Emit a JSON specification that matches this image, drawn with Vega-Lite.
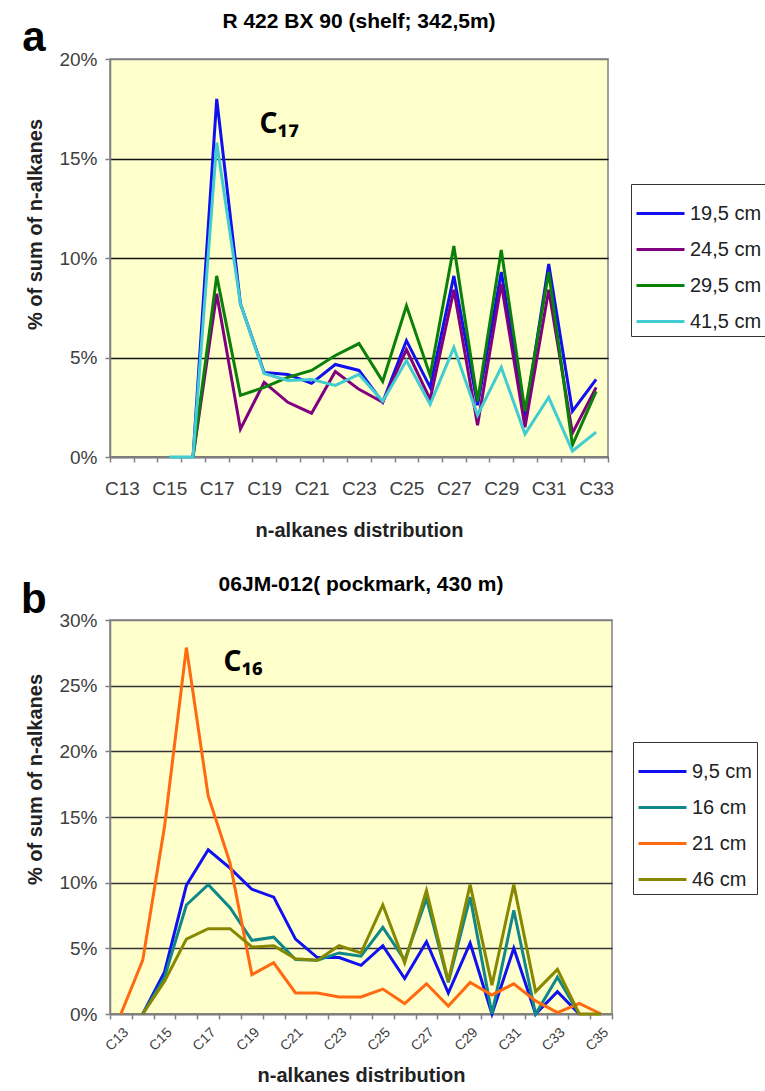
{
  "$schema": "https://vega.github.io/schema/vega-lite/v6.json",
  "padding": {"left": 20, "top": 10, "right": 0, "bottom": 0},
  "spacing": 32,
  "config": {
    "font": "Liberation Sans",
    "view": {"fill": "#FFFFCC", "stroke": "#808080", "strokeWidth": 1.5},
    "title": {"fontSize": 21, "fontWeight": "bold", "color": "black", "font": "Liberation Sans"},
    "axis": {
      "labelFont": "Liberation Sans",
      "labelColor": "#404040",
      "titleFont": "Liberation Sans",
      "titleFontWeight": "bold",
      "titleFontSize": 20,
      "titleColor": "#222",
      "domainColor": "#808080",
      "domainWidth": 1.5,
      "tickColor": "#808080",
      "tickWidth": 1.5,
      "tickSize": 5
    },
    "legend": {
      "labelFont": "Liberation Sans",
      "labelFontSize": 20,
      "labelColor": "#222",
      "symbolType": "stroke",
      "symbolStrokeWidth": 3,
      "symbolSize": 2300,
      "strokeColor": "#333",
      "fillColor": "white",
      "padding": 4,
      "rowPadding": 0,
      "labelOffset": 4
    }
  },
  "resolve": {"scale": {"color": "independent", "x": "independent", "y": "independent"}},
  "vconcat": [
    {
      "width": 498,
      "height": 398,
      "title": {"text": "R 422 BX 90 (shelf; 342,5m)", "offset": -15},
      "data": {
        "values": [
          {"c": "C16", "s": "19,5 cm", "v": 0},
          {"c": "C17", "s": "19,5 cm", "v": 18.0},
          {"c": "C18", "s": "19,5 cm", "v": 7.7},
          {"c": "C19", "s": "19,5 cm", "v": 4.25},
          {"c": "C20", "s": "19,5 cm", "v": 4.15},
          {"c": "C21", "s": "19,5 cm", "v": 3.7},
          {"c": "C22", "s": "19,5 cm", "v": 4.65},
          {"c": "C23", "s": "19,5 cm", "v": 4.35},
          {"c": "C24", "s": "19,5 cm", "v": 2.75},
          {"c": "C25", "s": "19,5 cm", "v": 5.85},
          {"c": "C26", "s": "19,5 cm", "v": 3.5},
          {"c": "C27", "s": "19,5 cm", "v": 9.1},
          {"c": "C28", "s": "19,5 cm", "v": 2.6},
          {"c": "C29", "s": "19,5 cm", "v": 9.3},
          {"c": "C30", "s": "19,5 cm", "v": 2.0},
          {"c": "C31", "s": "19,5 cm", "v": 9.7},
          {"c": "C32", "s": "19,5 cm", "v": 2.3},
          {"c": "C33", "s": "19,5 cm", "v": 3.9},
          {"c": "C16", "s": "24,5 cm", "v": 0},
          {"c": "C17", "s": "24,5 cm", "v": 8.2},
          {"c": "C18", "s": "24,5 cm", "v": 1.4},
          {"c": "C19", "s": "24,5 cm", "v": 3.75},
          {"c": "C20", "s": "24,5 cm", "v": 2.75},
          {"c": "C21", "s": "24,5 cm", "v": 2.2},
          {"c": "C22", "s": "24,5 cm", "v": 4.3},
          {"c": "C23", "s": "24,5 cm", "v": 3.4},
          {"c": "C24", "s": "24,5 cm", "v": 2.75},
          {"c": "C25", "s": "24,5 cm", "v": 5.4},
          {"c": "C26", "s": "24,5 cm", "v": 2.9},
          {"c": "C27", "s": "24,5 cm", "v": 8.4},
          {"c": "C28", "s": "24,5 cm", "v": 1.6},
          {"c": "C29", "s": "24,5 cm", "v": 8.7},
          {"c": "C30", "s": "24,5 cm", "v": 1.5},
          {"c": "C31", "s": "24,5 cm", "v": 8.4},
          {"c": "C32", "s": "24,5 cm", "v": 1.2},
          {"c": "C33", "s": "24,5 cm", "v": 3.5},
          {"c": "C16", "s": "29,5 cm", "v": 0},
          {"c": "C17", "s": "29,5 cm", "v": 9.1},
          {"c": "C18", "s": "29,5 cm", "v": 3.1},
          {"c": "C19", "s": "29,5 cm", "v": 3.5},
          {"c": "C20", "s": "29,5 cm", "v": 4.0},
          {"c": "C21", "s": "29,5 cm", "v": 4.35},
          {"c": "C22", "s": "29,5 cm", "v": 5.1},
          {"c": "C23", "s": "29,5 cm", "v": 5.7},
          {"c": "C24", "s": "29,5 cm", "v": 3.8},
          {"c": "C25", "s": "29,5 cm", "v": 7.6},
          {"c": "C26", "s": "29,5 cm", "v": 4.1},
          {"c": "C27", "s": "29,5 cm", "v": 10.6},
          {"c": "C28", "s": "29,5 cm", "v": 2.8},
          {"c": "C29", "s": "29,5 cm", "v": 10.4},
          {"c": "C30", "s": "29,5 cm", "v": 2.3},
          {"c": "C31", "s": "29,5 cm", "v": 9.3},
          {"c": "C32", "s": "29,5 cm", "v": 0.6},
          {"c": "C33", "s": "29,5 cm", "v": 3.3},
          {"c": "C15", "s": "41,5 cm", "v": 0},
          {"c": "C16", "s": "41,5 cm", "v": 0},
          {"c": "C17", "s": "41,5 cm", "v": 15.8},
          {"c": "C18", "s": "41,5 cm", "v": 7.7},
          {"c": "C19", "s": "41,5 cm", "v": 4.2},
          {"c": "C20", "s": "41,5 cm", "v": 3.85},
          {"c": "C21", "s": "41,5 cm", "v": 3.9},
          {"c": "C22", "s": "41,5 cm", "v": 3.6},
          {"c": "C23", "s": "41,5 cm", "v": 4.15},
          {"c": "C24", "s": "41,5 cm", "v": 2.8},
          {"c": "C25", "s": "41,5 cm", "v": 4.85},
          {"c": "C26", "s": "41,5 cm", "v": 2.65},
          {"c": "C27", "s": "41,5 cm", "v": 5.5},
          {"c": "C28", "s": "41,5 cm", "v": 2.1},
          {"c": "C29", "s": "41,5 cm", "v": 4.5},
          {"c": "C30", "s": "41,5 cm", "v": 1.15},
          {"c": "C31", "s": "41,5 cm", "v": 3.0},
          {"c": "C32", "s": "41,5 cm", "v": 0.3},
          {"c": "C33", "s": "41,5 cm", "v": 1.25}
        ]
      },
      "layer": [
        {
          "mark": {"type": "line", "strokeWidth": 3},
          "encoding": {
            "x": {
              "field": "c",
              "type": "ordinal",
              "scale": {
                "type": "band",
                "paddingInner": 0,
                "paddingOuter": 0,
                "domain": ["C13", "C14", "C15", "C16", "C17", "C18", "C19", "C20", "C21", "C22", "C23", "C24", "C25", "C26", "C27", "C28", "C29", "C30", "C31", "C32", "C33"]
              },
              "axis": {
                "title": "n-alkanes distribution",
                "titlePadding": 22,
                "labelAngle": 0,
                "labelFontSize": 19,
                "labelPadding": 17,
                "labelOverlap": false,
                "tickBand": "extent",
                "labelExpr": "parseInt(substring(datum.value, 1)) % 2 == 1 ? datum.value : ''"
              }
            },
            "y": {
              "field": "v",
              "type": "quantitative",
              "scale": {"domain": [0, 20], "nice": false},
              "axis": {
                "title": "% of sum of n-alkanes",
                "values": [0, 5, 10, 15, 20],
                "labelExpr": "datum.value + '%'",
                "labelFontSize": 19,
                "labelPadding": 8,
                "grid": true,
                "gridColor": {"condition": {"test": "datum.value >= 20", "value": "#808080"}, "value": "#111"},
                "gridWidth": 1.5,
                "titleX": -75,
                "titleY": 165,
                "titleBaseline": "middle",
                "titleAlign": "center"
              }
            },
            "color": {
              "field": "s",
              "type": "nominal",
              "scale": {
                "domain": ["19,5 cm", "24,5 cm", "29,5 cm", "41,5 cm"],
                "range": ["#1010F0", "#800080", "#0A800A", "#40CCD0"]
              },
              "legend": {"title": null, "orient": "none", "legendX": 521, "legendY": 125}
            }
          }
        },
        {
          "data": {"values": [{"label": "C₁₇"}]},
          "mark": {"type": "text", "font": "Noto Sans", "fontSize": 28, "fontWeight": "bold", "color": "black", "align": "center", "baseline": "alphabetic", "dx": 15},
          "encoding": {
            "x": {"datum": "C19", "type": "ordinal"},
            "y": {"datum": 16.3, "type": "quantitative"},
            "text": {"field": "label"}
          }
        },
        {
          "data": {"values": [{"label": "a"}]},
          "mark": {"type": "text", "font": "Liberation Sans", "fontSize": 42, "fontWeight": "bold", "color": "black", "align": "center", "baseline": "alphabetic", "dx": -88, "dy": -8, "clip": false},
          "encoding": {
            "x": {"datum": "C13", "type": "ordinal"},
            "y": {"datum": 20, "type": "quantitative"},
            "text": {"field": "label"}
          }
        }
      ]
    },
    {
      "width": 502,
      "height": 394,
      "title": {"text": "06JM-012( pockmark, 430 m)", "offset": -16},
      "data": {
        "values": [
          {"c": "C14", "s": "9,5 cm", "v": 0},
          {"c": "C15", "s": "9,5 cm", "v": 3.2},
          {"c": "C16", "s": "9,5 cm", "v": 9.8},
          {"c": "C17", "s": "9,5 cm", "v": 12.5},
          {"c": "C18", "s": "9,5 cm", "v": 11.1},
          {"c": "C19", "s": "9,5 cm", "v": 9.5},
          {"c": "C20", "s": "9,5 cm", "v": 8.9},
          {"c": "C21", "s": "9,5 cm", "v": 5.7},
          {"c": "C22", "s": "9,5 cm", "v": 4.3},
          {"c": "C23", "s": "9,5 cm", "v": 4.3},
          {"c": "C24", "s": "9,5 cm", "v": 3.7},
          {"c": "C25", "s": "9,5 cm", "v": 5.2},
          {"c": "C26", "s": "9,5 cm", "v": 2.7},
          {"c": "C27", "s": "9,5 cm", "v": 5.5},
          {"c": "C28", "s": "9,5 cm", "v": 1.6},
          {"c": "C29", "s": "9,5 cm", "v": 5.4},
          {"c": "C30", "s": "9,5 cm", "v": 0},
          {"c": "C31", "s": "9,5 cm", "v": 5.0},
          {"c": "C32", "s": "9,5 cm", "v": 0},
          {"c": "C33", "s": "9,5 cm", "v": 1.7},
          {"c": "C34", "s": "9,5 cm", "v": 0},
          {"c": "C14", "s": "16 cm", "v": 0},
          {"c": "C15", "s": "16 cm", "v": 2.8},
          {"c": "C16", "s": "16 cm", "v": 8.3},
          {"c": "C17", "s": "16 cm", "v": 9.85},
          {"c": "C18", "s": "16 cm", "v": 8.1},
          {"c": "C19", "s": "16 cm", "v": 5.6},
          {"c": "C20", "s": "16 cm", "v": 5.85},
          {"c": "C21", "s": "16 cm", "v": 4.15},
          {"c": "C22", "s": "16 cm", "v": 4.1},
          {"c": "C23", "s": "16 cm", "v": 4.65},
          {"c": "C24", "s": "16 cm", "v": 4.4},
          {"c": "C25", "s": "16 cm", "v": 6.6},
          {"c": "C26", "s": "16 cm", "v": 4.1},
          {"c": "C27", "s": "16 cm", "v": 8.8},
          {"c": "C28", "s": "16 cm", "v": 2.4},
          {"c": "C29", "s": "16 cm", "v": 8.9},
          {"c": "C30", "s": "16 cm", "v": 0},
          {"c": "C31", "s": "16 cm", "v": 7.9},
          {"c": "C32", "s": "16 cm", "v": 0},
          {"c": "C33", "s": "16 cm", "v": 2.8},
          {"c": "C34", "s": "16 cm", "v": 0},
          {"c": "C13", "s": "21 cm", "v": 0},
          {"c": "C14", "s": "21 cm", "v": 4.1},
          {"c": "C15", "s": "21 cm", "v": 14.3},
          {"c": "C16", "s": "21 cm", "v": 27.9},
          {"c": "C17", "s": "21 cm", "v": 16.6},
          {"c": "C18", "s": "21 cm", "v": 11.5},
          {"c": "C19", "s": "21 cm", "v": 3.0},
          {"c": "C20", "s": "21 cm", "v": 3.9},
          {"c": "C21", "s": "21 cm", "v": 1.6},
          {"c": "C22", "s": "21 cm", "v": 1.6},
          {"c": "C23", "s": "21 cm", "v": 1.3},
          {"c": "C24", "s": "21 cm", "v": 1.3},
          {"c": "C25", "s": "21 cm", "v": 1.9},
          {"c": "C26", "s": "21 cm", "v": 0.8},
          {"c": "C27", "s": "21 cm", "v": 2.3},
          {"c": "C28", "s": "21 cm", "v": 0.6},
          {"c": "C29", "s": "21 cm", "v": 2.4},
          {"c": "C30", "s": "21 cm", "v": 1.45},
          {"c": "C31", "s": "21 cm", "v": 2.3},
          {"c": "C32", "s": "21 cm", "v": 1.0},
          {"c": "C33", "s": "21 cm", "v": 0.1},
          {"c": "C34", "s": "21 cm", "v": 0.8},
          {"c": "C35", "s": "21 cm", "v": 0},
          {"c": "C14", "s": "46 cm", "v": 0},
          {"c": "C15", "s": "46 cm", "v": 2.5},
          {"c": "C16", "s": "46 cm", "v": 5.7},
          {"c": "C17", "s": "46 cm", "v": 6.5},
          {"c": "C18", "s": "46 cm", "v": 6.5},
          {"c": "C19", "s": "46 cm", "v": 5.1},
          {"c": "C20", "s": "46 cm", "v": 5.2},
          {"c": "C21", "s": "46 cm", "v": 4.2},
          {"c": "C22", "s": "46 cm", "v": 4.1},
          {"c": "C23", "s": "46 cm", "v": 5.2},
          {"c": "C24", "s": "46 cm", "v": 4.65},
          {"c": "C25", "s": "46 cm", "v": 8.3},
          {"c": "C26", "s": "46 cm", "v": 3.9},
          {"c": "C27", "s": "46 cm", "v": 9.4},
          {"c": "C28", "s": "46 cm", "v": 2.5},
          {"c": "C29", "s": "46 cm", "v": 9.85},
          {"c": "C30", "s": "46 cm", "v": 2.2},
          {"c": "C31", "s": "46 cm", "v": 9.85},
          {"c": "C32", "s": "46 cm", "v": 1.7},
          {"c": "C33", "s": "46 cm", "v": 3.4},
          {"c": "C34", "s": "46 cm", "v": 0},
          {"c": "C35", "s": "46 cm", "v": 0}
        ]
      },
      "layer": [
        {
          "mark": {"type": "line", "strokeWidth": 3},
          "encoding": {
            "x": {
              "field": "c",
              "type": "ordinal",
              "scale": {
                "type": "band",
                "paddingInner": 0,
                "paddingOuter": 0,
                "domain": ["C13", "C14", "C15", "C16", "C17", "C18", "C19", "C20", "C21", "C22", "C23", "C24", "C25", "C26", "C27", "C28", "C29", "C30", "C31", "C32", "C33", "C34", "C35"]
              },
              "axis": {
                "title": "n-alkanes distribution",
                "titlePadding": 12,
                "labelAngle": -45,
                "labelFontSize": 14,
                "labelPadding": 6,
                "labelOverlap": false,
                "tickBand": "extent",
                "labelExpr": "parseInt(substring(datum.value, 1)) % 2 == 1 ? datum.value : ''"
              }
            },
            "y": {
              "field": "v",
              "type": "quantitative",
              "scale": {"domain": [0, 30], "nice": false},
              "axis": {
                "title": "% of sum of n-alkanes",
                "values": [0, 5, 10, 15, 20, 25, 30],
                "labelExpr": "datum.value + '%'",
                "labelFontSize": 19,
                "labelPadding": 8,
                "grid": true,
                "gridColor": {"condition": {"test": "datum.value >= 30", "value": "#808080"}, "value": "#333"},
                "gridWidth": 1.5,
                "titleX": -75,
                "titleY": 159,
                "titleBaseline": "middle",
                "titleAlign": "center"
              }
            },
            "color": {
              "field": "s",
              "type": "nominal",
              "scale": {
                "domain": ["9,5 cm", "16 cm", "21 cm", "46 cm"],
                "range": ["#1010F0", "#108888", "#FF6A10", "#888800"]
              },
              "legend": {"title": null, "orient": "none", "legendX": 523, "legendY": 122}
            }
          }
        },
        {
          "data": {"values": [{"label": "C₁₆"}]},
          "mark": {"type": "text", "font": "Noto Sans", "fontSize": 28, "fontWeight": "bold", "color": "black", "align": "center", "baseline": "alphabetic", "dx": 13},
          "encoding": {
            "x": {"datum": "C18", "type": "ordinal"},
            "y": {"datum": 26.1, "type": "quantitative"},
            "text": {"field": "label"}
          }
        },
        {
          "data": {"values": [{"label": "b"}]},
          "mark": {"type": "text", "font": "Liberation Sans", "fontSize": 42, "fontWeight": "bold", "color": "black", "align": "center", "baseline": "alphabetic", "dx": -87, "dy": -7, "clip": false},
          "encoding": {
            "x": {"datum": "C13", "type": "ordinal"},
            "y": {"datum": 30, "type": "quantitative"},
            "text": {"field": "label"}
          }
        }
      ]
    }
  ]
}
